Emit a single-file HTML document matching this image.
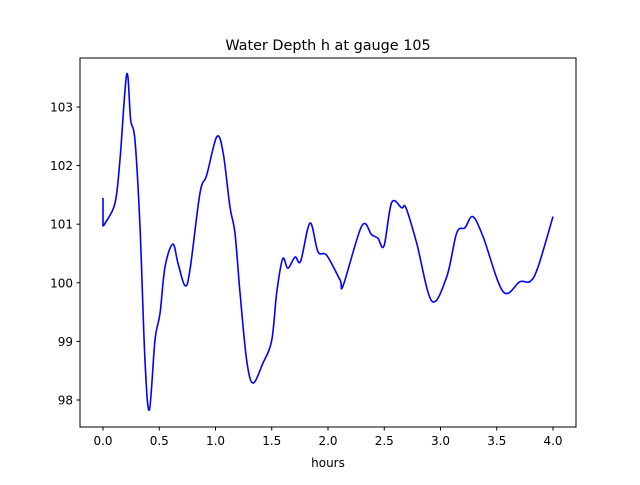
<!DOCTYPE html>
<html><head><meta charset="utf-8"><style>
body{margin:0;background:#fff;}
svg text{font-family:"DejaVu Sans","Liberation Sans",sans-serif;fill:#000;}
</style></head><body>
<svg width="640" height="480" xmlns="http://www.w3.org/2000/svg">
<rect width="640" height="480" fill="#fff"/>
<text x="328" y="50" font-size="14.4" text-anchor="middle">Water Depth h at gauge 105</text>
<g id="ticks"></g>
<path id="line" fill="none" stroke="#0000ff" stroke-width="1.6" stroke-linejoin="round"/>
<rect x="80" y="58" width="496" height="369" fill="none" stroke="#000" stroke-width="1"/>
<text x="328" y="467" font-size="12" text-anchor="middle">hours</text>
</svg>
<script>
const hours=[0.00,0.00,0.02,0.107,0.151,0.211,0.246,0.284,0.329,0.373,0.412,0.462,0.507,0.551,0.620,0.667,0.729,0.773,0.862,0.922,1.011,1.067,1.129,1.173,1.218,1.277,1.333,1.422,1.500,1.544,1.597,1.644,1.707,1.757,1.840,1.911,1.988,2.107,2.136,2.300,2.388,2.444,2.498,2.566,2.655,2.693,2.788,2.922,3.055,3.144,3.218,3.286,3.378,3.556,3.707,3.796,3.867,4.000];
const depth=[101.45,100.97,101.02,101.36,102.10,103.56,102.78,102.44,100.95,98.68,97.83,99.02,99.48,100.27,100.66,100.33,99.95,100.22,101.53,101.84,102.49,102.23,101.29,100.85,99.83,98.68,98.29,98.63,99.02,99.83,100.41,100.25,100.44,100.37,101.02,100.53,100.47,100.05,99.96,100.97,100.82,100.76,100.63,101.37,101.28,101.28,100.68,99.69,100.10,100.85,100.94,101.13,100.79,99.85,100.02,100.02,100.27,101.13];
const xTicks=[0,0.5,1,1.5,2,2.5,3,3.5,4];
const xTickLabels=["0.0","0.5","1.0","1.5","2.0","2.5","3.0","3.5","4.0"];
const yTicks=[98,99,100,101,102,103];
const yTickLabels=["98","99","100","101","102","103"];
const X=v=>103+v*112.5;
const Y=v=>107+(103-v)*58.6;
const NS="http://www.w3.org/2000/svg";
const g=document.getElementById('ticks');
xTicks.forEach((t,i)=>{
  const l=document.createElementNS(NS,'line');
  l.setAttribute('x1',X(t));l.setAttribute('x2',X(t));l.setAttribute('y1',427);l.setAttribute('y2',430.5);l.setAttribute('stroke','#000');
  
  
  g.appendChild(l);
  const tx=document.createElementNS(NS,'text');
  tx.setAttribute('x',X(t));tx.setAttribute('y',445);tx.setAttribute('font-size','12');tx.setAttribute('text-anchor','middle');
  tx.textContent=xTickLabels[i];
  
  
  g.appendChild(tx);
});
yTicks.forEach((t,i)=>{
  const l=document.createElementNS(NS,'line');
  l.setAttribute('x1',76.5);l.setAttribute('x2',80);l.setAttribute('y1',Y(t));l.setAttribute('y2',Y(t));l.setAttribute('stroke','#000');
  
  
  g.appendChild(l);
  const tx=document.createElementNS(NS,'text');
  tx.setAttribute('x',73);tx.setAttribute('y',Y(t)+4.5);tx.setAttribute('font-size','12');tx.setAttribute('text-anchor','end');
  tx.textContent=yTickLabels[i];
  
  
  g.appendChild(tx);
});
const pts=hours.map((h,i)=>[X(h),Y(depth[i])]);
let d=`M${pts[0][0]},${pts[0][1]} L${pts[1][0]},${pts[1][1]}`;
for(let i=1;i<pts.length-1;i++){
  const p0=pts[Math.max(i-1,1)],p1=pts[i],p2=pts[i+1],p3=pts[Math.min(i+2,pts.length-1)];
  const c1=[p1[0]+(p2[0]-p0[0])/6,p1[1]+(p2[1]-p0[1])/6];
  const c2=[p2[0]-(p3[0]-p1[0])/6,p2[1]-(p3[1]-p1[1])/6];
  d+=` C${c1[0]},${c1[1]} ${c2[0]},${c2[1]} ${p2[0]},${p2[1]}`;
}
document.getElementById('line').setAttribute('d',d);
</script>
</body></html>
